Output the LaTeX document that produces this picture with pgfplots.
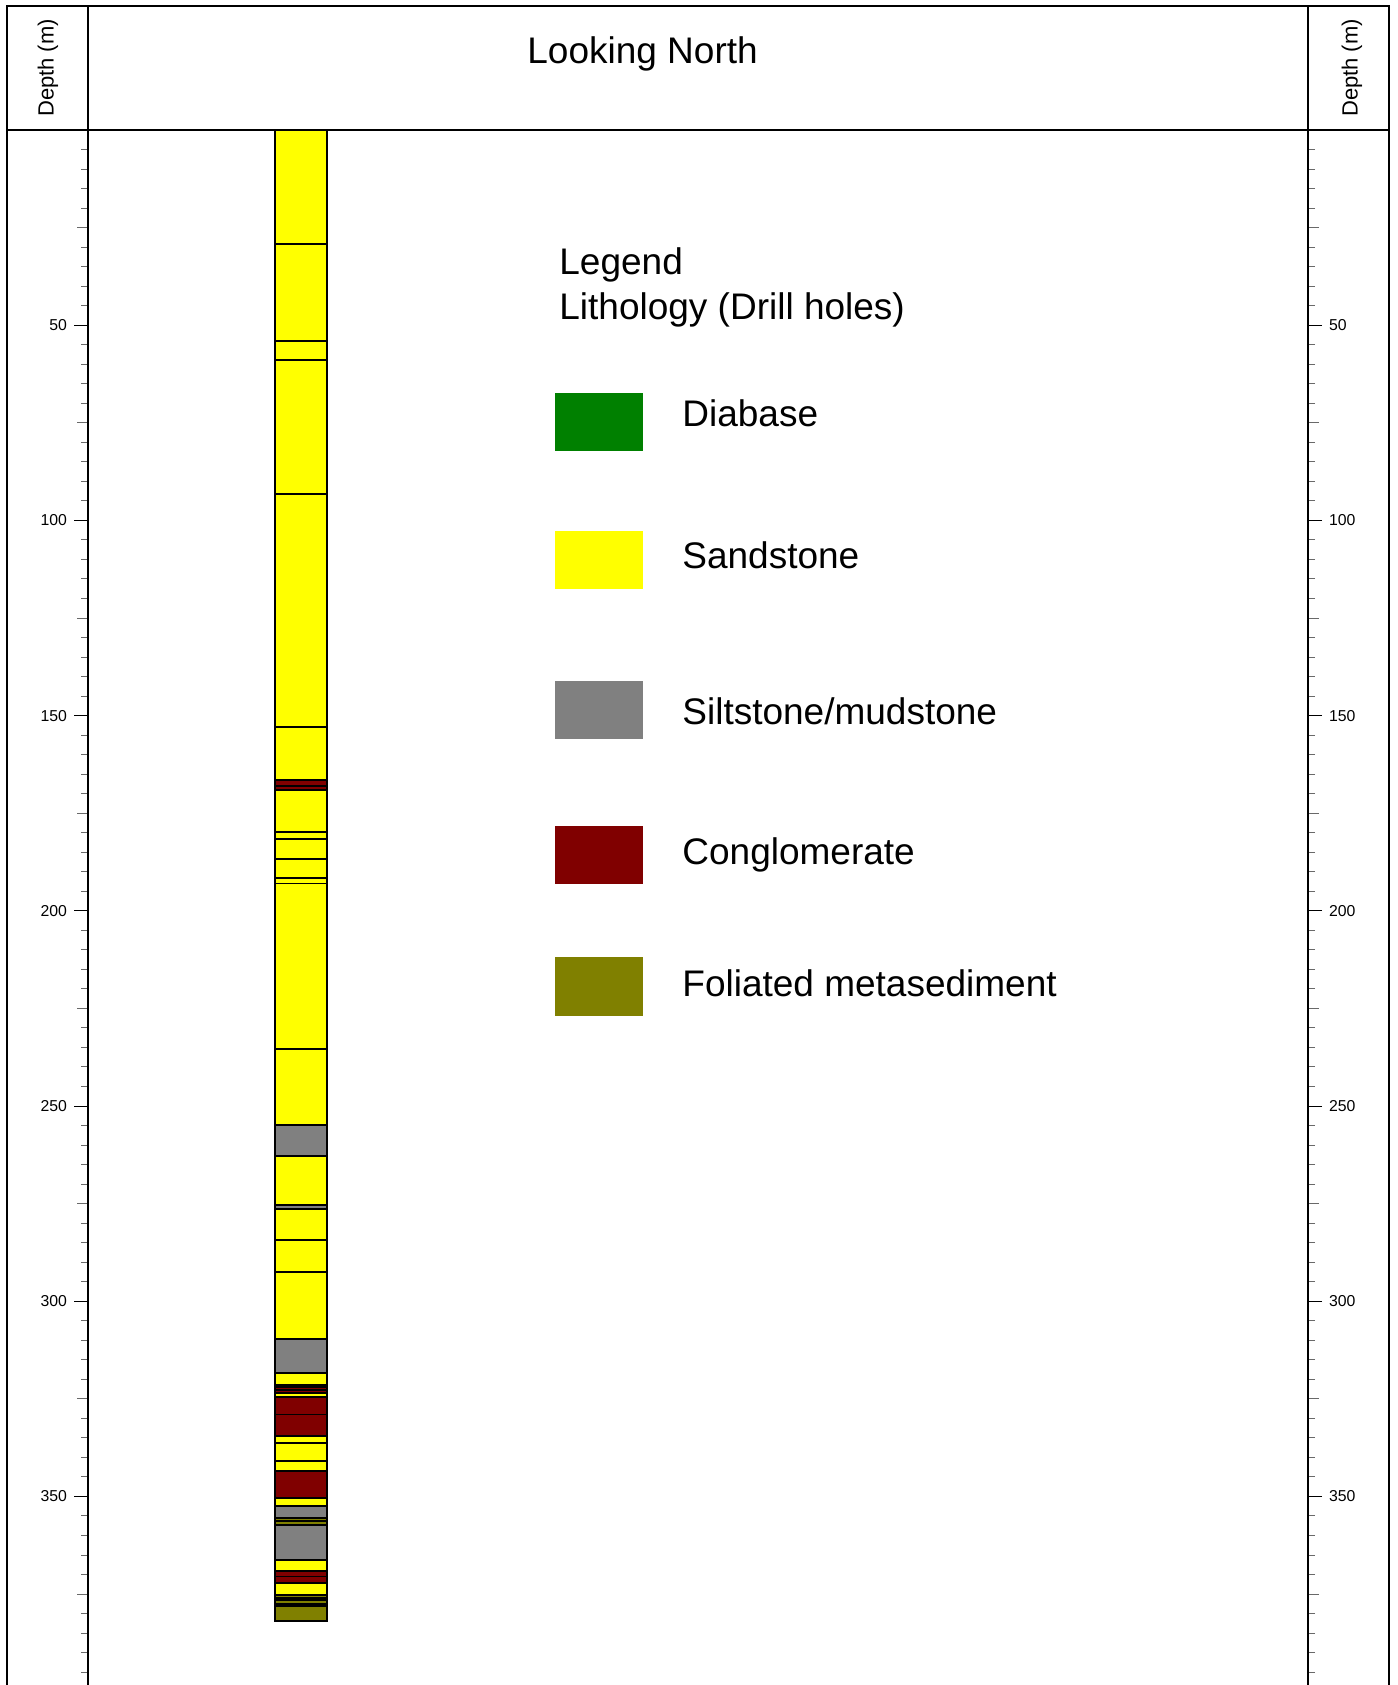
\documentclass[border=0pt]{standalone}
\usepackage{pgfplots}
\pgfplotsset{compat=1.18}
\usepackage{fontspec}
\setmainfont{Liberation Sans}
\definecolor{diab}{RGB}{0,128,0}
\definecolor{sand}{RGB}{255,255,0}
\definecolor{silt}{RGB}{128,128,128}
\definecolor{cong}{RGB}{128,0,0}
\definecolor{foli}{RGB}{128,128,0}
\definecolor{tickgray}{RGB}{105,105,105}
% one layer = a bar from depth 0 down to its bottom depth (drawn deepest first)
\newcommand\layer[2]{\addplot[ybar, bar width=26pt, bar shift=0pt, fill=#2, draw=black, line width=0.95pt] coordinates {(213,#1)};}
\pgfplotsset{depthaxis/.style={
  at={(44pt,777.5pt)}, anchor=north west, scale only axis,
  width=610pt, height=777.5pt,
  xmin=0, xmax=1220, ymin=0, ymax=398.3, y dir=reverse,
  axis x line=none,
  ytick={50,100,...,350}, minor ytick={5,10,...,395},
  extra y ticks={25,75,...,375}, extra y tick labels={},
  tick align=outside, major tick length=7pt, minor tick length=3.5pt,
  major tick style={black, line width=0.5pt},
  minor tick style={tickgray, line width=0.5pt},
  extra y tick style={major tick length=5.5pt, major tick style={tickgray, line width=0.5pt}},
  axis line style={line width=1pt},
  /pgf/number format/assume math mode=true,
  yticklabel style={font=\fontsize{7.9}{9}\selectfont},
}}
\begin{document}
\begin{tikzpicture}
\useasboundingbox (0,0) rectangle (698.5pt,842.5pt);
\begin{axis}[depthaxis, axis y line*=left]
% bottom depth (m), lithology
\layer{381.8}{foli}
\layer{378.1}{diab}
\layer{377.5}{foli}
\layer{376.6}{silt}
\layer{375.9}{foli}
\layer{375.2}{sand}
\layer{372.1}{cong}
\layer{370.5}{cong}
\layer{369.1}{sand}
\layer{366.2}{silt}
\layer{357.3}{foli}
\layer{356.3}{foli}
\layer{355.5}{silt}
\layer{352.5}{sand}
\layer{350.4}{cong}
\layer{343.5}{sand}
\layer{341.0}{sand}
\layer{336.3}{sand}
\layer{334.5}{cong}
\layer{329.0}{cong}
\layer{324.5}{sand}
\layer{323.4}{cong}
\layer{322.7}{cong}
\layer{322.0}{silt}
\layer{321.4}{sand}
\layer{318.4}{silt}
\layer{309.6}{sand}
\layer{292.6}{sand}
\layer{284.4}{sand}
\layer{276.4}{silt}
\layer{275.4}{sand}
\layer{262.9}{silt}
\layer{254.8}{sand}
\layer{235.5}{sand}
\layer{193.0}{sand}
\layer{191.6}{sand}
\layer{186.8}{sand}
\layer{181.6}{sand}
\layer{179.9}{sand}
\layer{169.1}{cong}
\layer{168.1}{cong}
\layer{166.6}{sand}
\layer{152.9}{sand}
\layer{93.3}{sand}
\layer{58.9}{sand}
\layer{54.1}{sand}
\layer{29.1}{sand}
\end{axis}
\begin{axis}[depthaxis, axis y line*=right]
\end{axis}
\begin{scope}[x=0.5pt, y=-0.5pt, shift={(0,842.5pt)}]
\draw[line width=1pt] (7,1700) -- (7,6) -- (1389,6) -- (1389,1700);
\draw[line width=1pt] (7,130) -- (1389,130);
\draw[line width=1pt] (88,6) -- (88,1700);
\draw[line width=1pt] (1308,6) -- (1308,1700);
\node[rotate=90, inner sep=0pt, font=\fontsize{11}{13}\selectfont] at (48,68) {Depth (m)};
\node[rotate=90, inner sep=0pt, font=\fontsize{11}{13}\selectfont] at (1352,68) {Depth (m)};
\node[anchor=base west, inner sep=0pt, font=\fontsize{18.5}{22}\selectfont] at (527,64) {Looking North};
\node[anchor=base west, inner sep=0pt, font=\fontsize{18.5}{22}\selectfont] at (559,275) {Legend};
\node[anchor=base west, inner sep=0pt, font=\fontsize{18.5}{22}\selectfont] at (559,320) {Lithology (Drill holes)};
\fill[diab] (555,393) rectangle (643,451);
\fill[sand] (555,531) rectangle (643,589);
\fill[silt] (555,681) rectangle (643,739);
\fill[cong] (555,826) rectangle (643,884);
\fill[foli] (555,957) rectangle (643,1016);
\node[anchor=base west, inner sep=0pt, font=\fontsize{18.5}{22}\selectfont] at (682,427) {Diabase};
\node[anchor=base west, inner sep=0pt, font=\fontsize{18.5}{22}\selectfont] at (682,569) {Sandstone};
\node[anchor=base west, inner sep=0pt, font=\fontsize{18.5}{22}\selectfont] at (682,725) {Siltstone/mudstone};
\node[anchor=base west, inner sep=0pt, font=\fontsize{18.5}{22}\selectfont] at (682,865) {Conglomerate};
\node[anchor=base west, inner sep=0pt, font=\fontsize{18.5}{22}\selectfont] at (682,997) {Foliated metasediment};
\end{scope}
\end{tikzpicture}
\end{document}
